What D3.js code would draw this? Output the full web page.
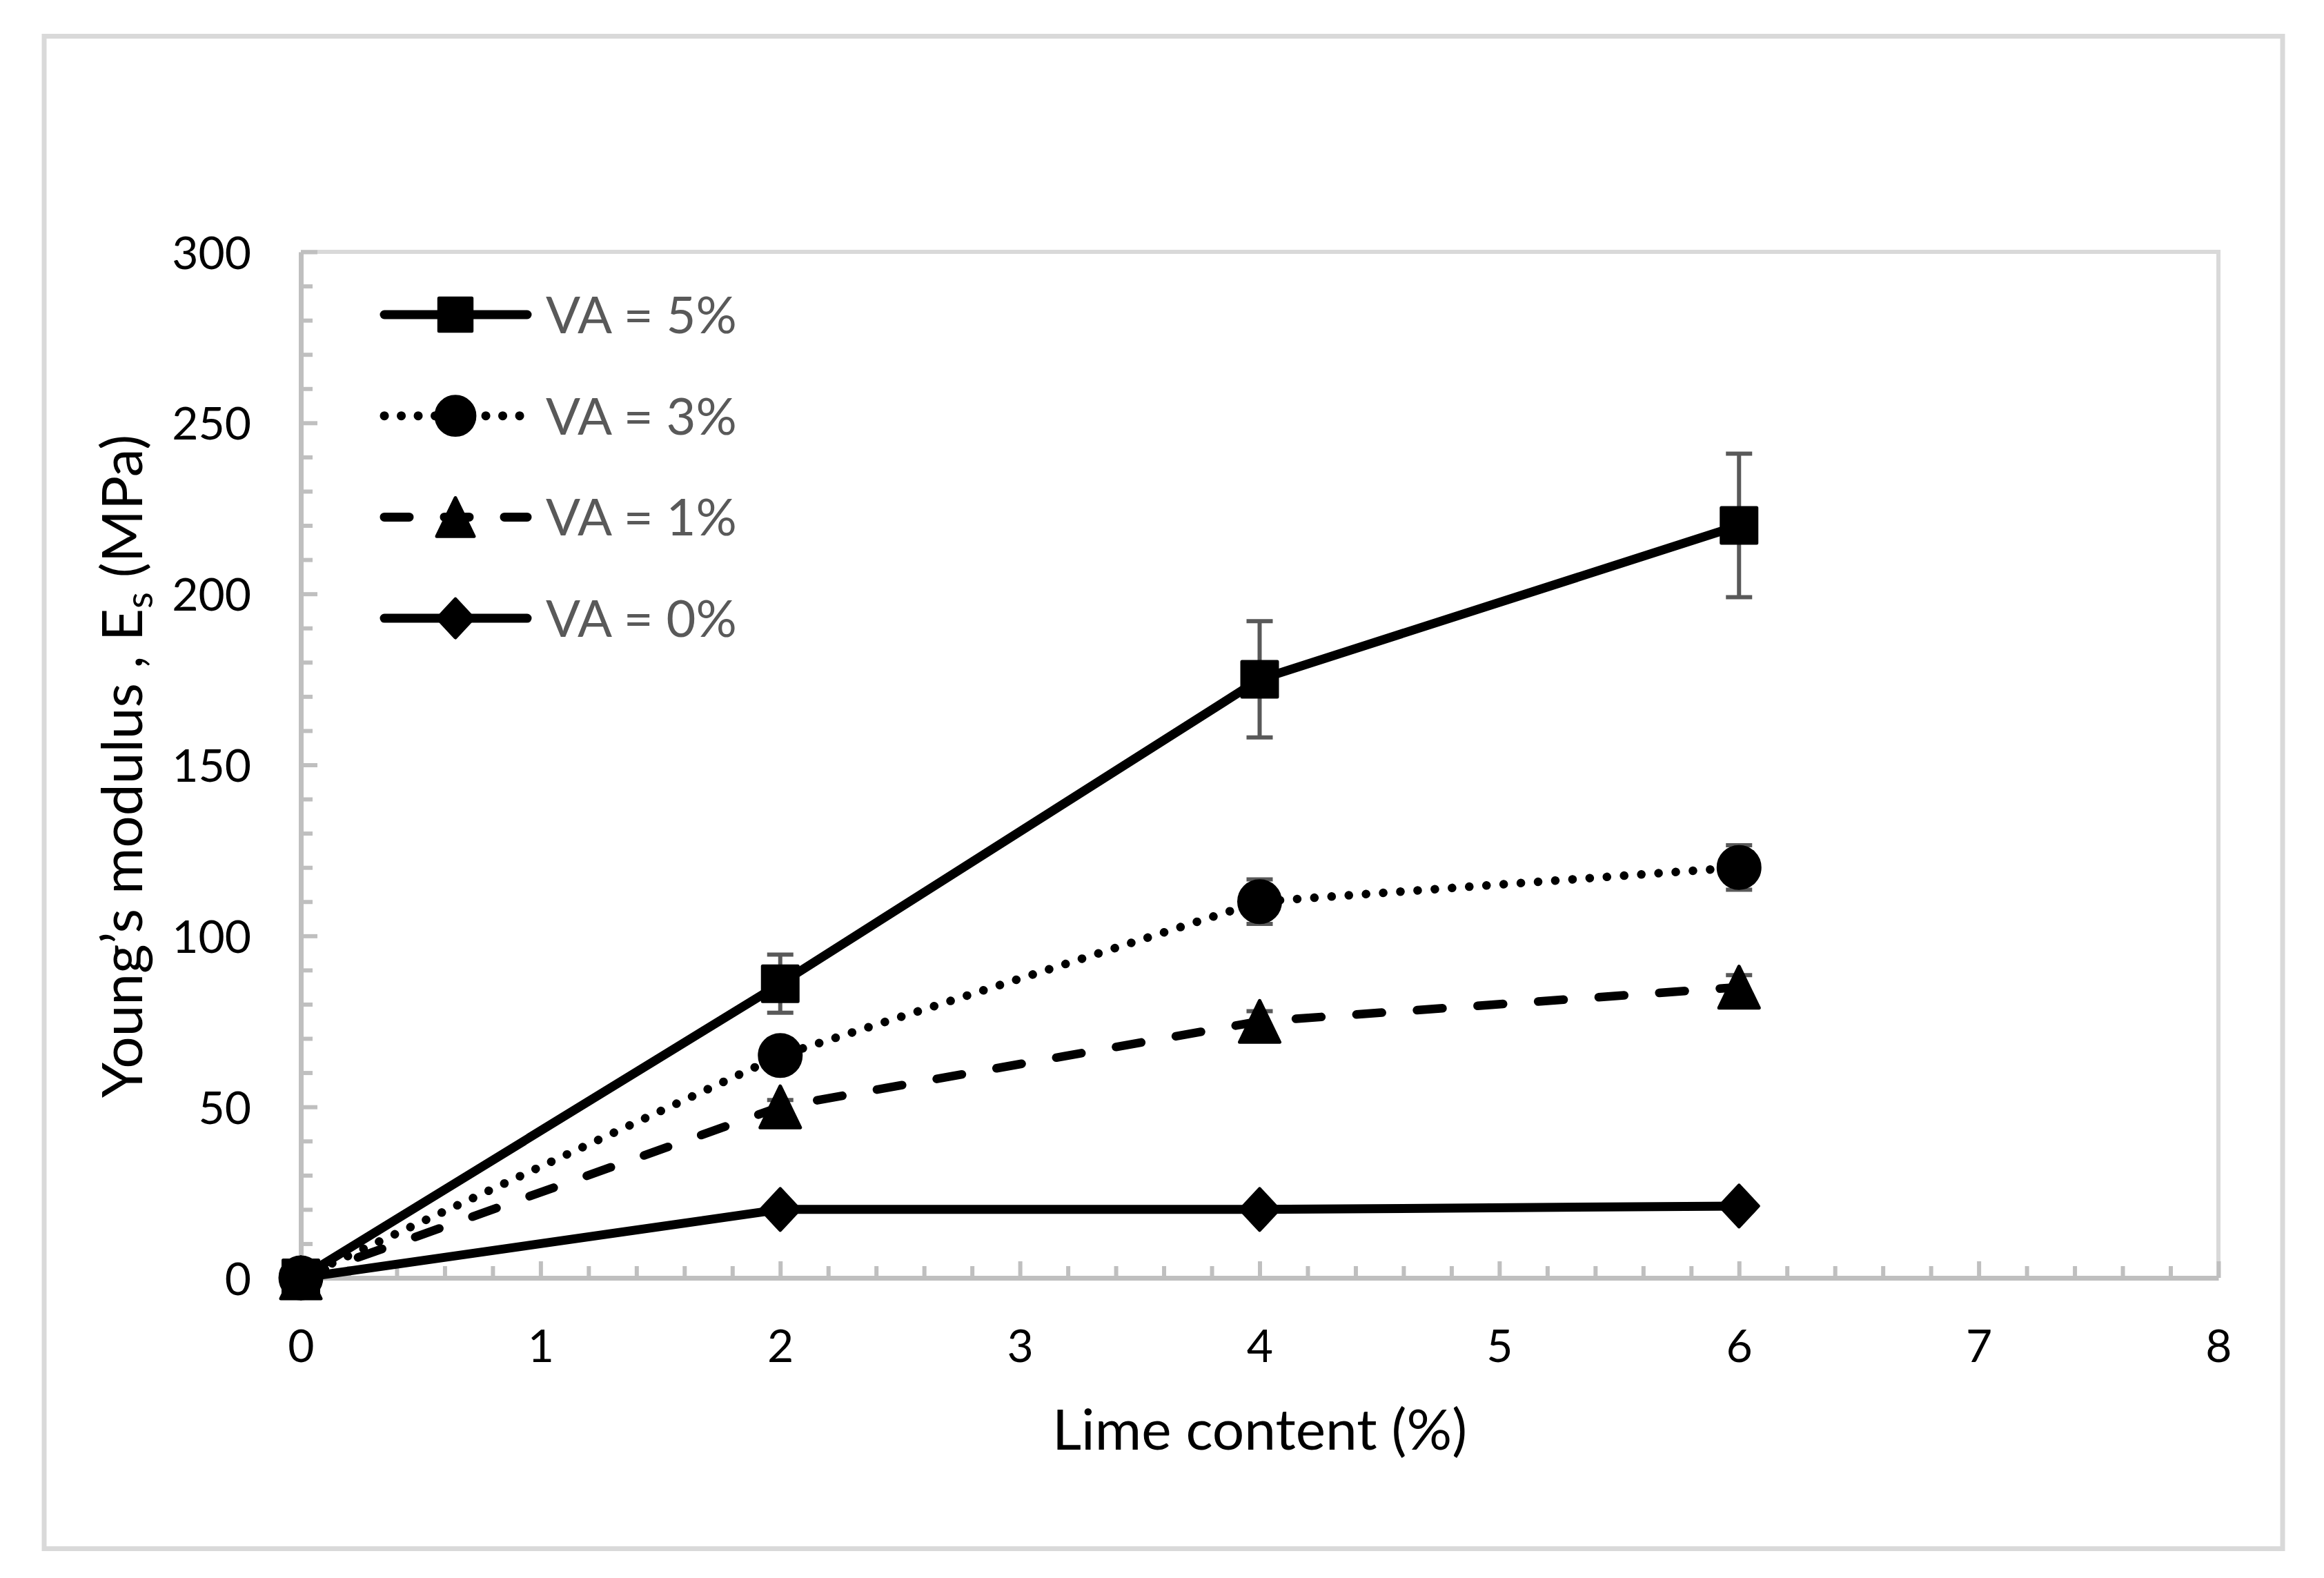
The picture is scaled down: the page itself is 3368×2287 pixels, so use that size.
<!DOCTYPE html>
<html><head><meta charset="utf-8">
<script src="https://cdn.jsdelivr.net/npm/d3@7"></script>
<style>body{margin:0;background:#fff} text{font-family:Lato,'Open Sans',sans-serif}</style>
</head><body>
<svg id="c" width="3368" height="2287"></svg>
<script>
// ---- data ----
const limeContent = [0, 2, 4, 6];
const seriesNames = ["VA = 5%", "VA = 3%", "VA = 1%", "VA = 0%"];
const va5 = [0, 86, 175, 220];
const va3 = [0, 65, 110, 120];
const va1 = [0, 50, 75, 85];
const va0 = [0, 20, 20, 21];
const va5Err = [0, 8.5, 17, 21];
const va3Err = [0, 3, 6.5, 6.5];
const va1Err = [0, 2, 3, 3.5];
const va0Err = [0, 0, 0, 0];
const xTickValues = [0, 1, 2, 3, 4, 5, 6, 7, 8];
const yTickValues = [0, 50, 100, 150, 200, 250, 300];
const xTitle = "Lime content (%)";
const yTitleMain = "Young\u2019s modulus , E";
const yTitleSub = "s";
const yTitleEnd = " (MPa)";

// ---- layout ----
const svg = d3.select("#c");
const L = 436, R = 3215, T = 365, B = 1852;
const x = d3.scaleLinear().domain([0, 8]).range([L, R]);
const y = d3.scaleLinear().domain([0, 300]).range([B, T]);

svg.append("rect").attr("x", 64).attr("y", 52.5).attr("width", 3244).attr("height", 2192)
  .attr("fill", "#fff").attr("stroke", "#d9d9d9").attr("stroke-width", 7);

// plot border (top, right)
svg.append("path").attr("d", `M${L},${T}H${R}V${B}`).attr("fill", "none")
  .attr("stroke", "#d9d9d9").attr("stroke-width", 6);

// minor ticks
const xMinor = d3.range(0, 8.0001, 0.2).filter(v => Math.abs(v - Math.round(v)) > 1e-6);
const yMinor = d3.range(0, 300.001, 10).filter(v => v % 50 !== 0);
const gxm = svg.append("g").attr("transform", `translate(0,${B})`)
  .call(d3.axisBottom(x).tickValues(xMinor).tickSize(-17).tickSizeOuter(0).tickFormat(""));
const gym = svg.append("g").attr("transform", `translate(${L},0)`)
  .call(d3.axisLeft(y).tickValues(yMinor).tickSize(-17).tickSizeOuter(0).tickFormat(""));
[gxm, gym].forEach(g => { g.select(".domain").remove(); g.selectAll("line").attr("stroke", "#bfbfbf").attr("stroke-width", 6); });

const gx = svg.append("g").attr("transform", `translate(0,${B})`)
  .call(d3.axisBottom(x).tickValues(xTickValues).tickSize(-24).tickSizeOuter(0));
const gy = svg.append("g").attr("transform", `translate(${L},0)`)
  .call(d3.axisLeft(y).tickValues(yTickValues).tickSize(-24).tickSizeOuter(0));
[gx, gy].forEach(g => {
  g.select(".domain").attr("stroke", "#bfbfbf").attr("stroke-width", 7);
  g.selectAll("line").attr("stroke", "#bfbfbf").attr("stroke-width", 6);
});
gx.selectAll("text").attr("y", 1974 - B).attr("dy", null).attr("font-size", 66)
  .attr("fill", "#000").attr("font-family", "Lato");
gy.selectAll("text").attr("x", 364 - L).attr("dy", 24).attr("font-size", 66)
  .attr("fill", "#000").attr("font-family", "Lato").attr("text-anchor", "end");

// titles
svg.append("text").attr("x", (L + R) / 2).attr("y", 2101).attr("text-anchor", "middle")
  .attr("font-size", 82).attr("fill", "#000").text(xTitle);
const yt = svg.append("text").attr("transform", `translate(206,${(T + B) / 2 + 2}) rotate(-90)`)
  .attr("text-anchor", "middle").attr("font-size", 82).attr("fill", "#000");
yt.append("tspan").text(yTitleMain);
yt.append("tspan").attr("font-size", 55).attr("dy", 15).text(yTitleSub);
yt.append("tspan").attr("dy", -15).text(yTitleEnd);

// ---- series ----
const markerPaths = {
  square: s => `M${-25.5*s},${-25.5*s}H${25.5*s}V${25.5*s}H${-25.5*s}Z`,
  circle: s => { const r = 30*s; return `M${-r},0A${r},${r} 0 1,0 ${r},0A${r},${r} 0 1,0 ${-r},0Z`; },
  triangle: s => `M0,${-30*s}L${29*s},${30*s}L${-29*s},${30*s}Z`,
  diamond: s => `M0,${-30*s}L${28*s},0L0,${30*s}L${-28*s},0Z`
};
const series = [
  {name: seriesNames[0], vals: va5, err: va5Err, marker: "square", dash: null, w: 13},
  {name: seriesNames[1], vals: va3, err: va3Err, marker: "circle", dash: "0.1 24.9", w: 12.5},
  {name: seriesNames[2], vals: va1, err: va1Err, marker: "triangle", dash: "37 51", w: 12.5},
  {name: seriesNames[3], vals: va0, err: va0Err, marker: "diamond", dash: null, w: 13}
];
const line = d3.line().x(d => x(d[0])).y(d => y(d[1]));

// draw in reverse so first series on top
series.slice().reverse().forEach(s => {
  const pts = limeContent.map((c, i) => [c, s.vals[i], s.err[i]]);
  const g = svg.append("g");
  // error bars
  const eb = g.selectAll(".eb").data(pts.filter(p => p[2] > 0)).join("g");
  eb.append("line").attr("x1", p => x(p[0])).attr("x2", p => x(p[0]))
    .attr("y1", p => y(p[1] - p[2])).attr("y2", p => y(p[1] + p[2]))
    .attr("stroke", "#595959").attr("stroke-width", 6);
  [1, -1].forEach(sg => eb.append("line")
    .attr("x1", p => x(p[0]) - 19).attr("x2", p => x(p[0]) + 19)
    .attr("y1", p => y(p[1] + sg * p[2])).attr("y2", p => y(p[1] + sg * p[2]))
    .attr("stroke", "#595959").attr("stroke-width", 6));
  g.append("path").attr("d", line(pts)).attr("fill", "none").attr("stroke", "#000")
    .attr("stroke-width", s.w).attr("stroke-linecap", s.dash ? "round" : "butt")
    .attr("stroke-linejoin", "round").attr("stroke-dasharray", s.dash);
  g.selectAll(".mk").data(pts).join("path")
    .attr("transform", p => `translate(${x(p[0])},${y(p[1])})`)
    .attr("d", markerPaths[s.marker](1)).attr("fill", "#000")
    .attr("stroke", "#000").attr("stroke-width", 5).attr("stroke-linejoin", "round");
});

// ---- legend ----
const legendDash = [null, "0.1 24.4", "36 51", null];
series.forEach((s, i) => {
  const cy = 456 + i * 146.7;
  const g = svg.append("g");
  g.append("line").attr("x1", 557).attr("x2", 764).attr("y1", cy).attr("y2", cy)
    .attr("stroke", "#000").attr("stroke-width", 13).attr("stroke-linecap", "round")
    .attr("stroke-dasharray", legendDash[i]);
  g.append("path").attr("transform", `translate(660,${cy})`).attr("d", markerPaths[s.marker](0.93))
    .attr("fill", "#000").attr("stroke", "#000").attr("stroke-width", 5).attr("stroke-linejoin", "round");
  g.append("text").attr("x", 791).attr("y", cy + 27).attr("font-size", 74)
    .attr("fill", "#595959").text(s.name);
});
</script>
</body></html>
